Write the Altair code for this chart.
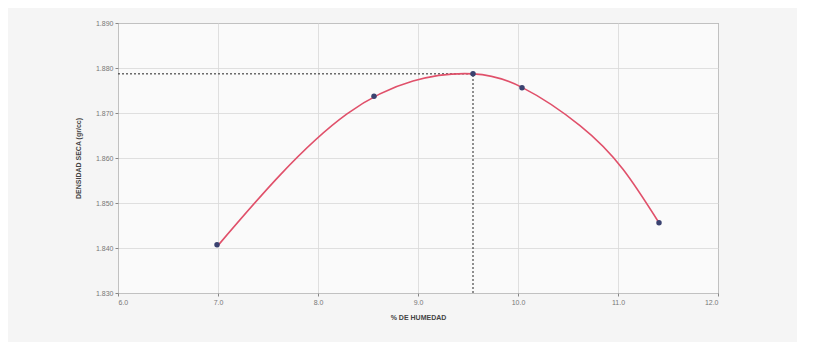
import altair as alt
import pandas as pd

# Measured points (moisture %, dry density)
pt_x = [6.99, 8.56, 9.55, 10.04, 11.41]
pt_y = [1.8407, 1.8737, 1.8787, 1.8756, 1.8456]

# Fitted curve
cv_x = [6.99, 7.62, 8.29, 8.95, 9.55, 10.04, 10.62, 11.05, 11.41]
cv_y = [1.8403, 1.8562, 1.8698, 1.8771, 1.8787, 1.8757, 1.8672, 1.8575, 1.8456]

x_ticks = [6, 7, 8, 9, 10, 11, 12]
y_ticks = [1.830, 1.840, 1.850, 1.860, 1.870, 1.880, 1.890]

opt_x = 9.55
opt_y = 1.8787

pts = pd.DataFrame({"x": pt_x, "y": pt_y})
curve = pd.DataFrame({"x": cv_x, "y": cv_y})
href = pd.DataFrame({"x": [x_ticks[0], opt_x], "y": [opt_y, opt_y]})
vref = pd.DataFrame({"x": [opt_x, opt_x], "y": [y_ticks[0], opt_y]})

xs = alt.Scale(domain=[x_ticks[0], x_ticks[-1]], nice=False, zero=False)
ys = alt.Scale(domain=[y_ticks[0], y_ticks[-1]], nice=False, zero=False)

xenc = alt.X("x:Q", scale=xs, title="% DE HUMEDAD",
             axis=alt.Axis(values=x_ticks, format=".1f", grid=True, tickSize=3,
                           labelFontSize=7, titleFontSize=7, labelColor="#777",
                           titleColor="#444", titlePadding=8, domain=False))
yenc = alt.Y("y:Q", scale=ys, title="DENSIDAD SECA (gr/cc)",
             axis=alt.Axis(values=y_ticks, format=".3f", grid=True, tickSize=3,
                           labelFontSize=7, titleFontSize=7, labelColor="#777",
                           titleColor="#444", titlePadding=14, domain=False))

curve_l = alt.Chart(curve).mark_line(color="#e0506a", strokeWidth=1.6, interpolate="natural").encode(x=xenc, y=yenc)
h_l = alt.Chart(href).mark_line(color="#222", strokeWidth=1, strokeDash=[2, 2]).encode(x="x:Q", y="y:Q")
v_l = alt.Chart(vref).mark_line(color="#222", strokeWidth=1, strokeDash=[2, 2]).encode(x="x:Q", y="y:Q")
pts_l = alt.Chart(pts).mark_circle(color="#3a4270", size=30, opacity=1).encode(x="x:Q", y="y:Q")

chart = alt.layer(h_l, v_l, curve_l, pts_l).properties(
    width=600, height=270,
    autosize=alt.AutoSizeParams(type="none"),
    padding={"left": 110, "top": 15, "right": 79, "bottom": 49},
    background="#f5f5f5",
).configure_view(stroke="#666", strokeWidth=1, fill="#fafafa").configure_axis(
    gridColor="#d8d8d8", gridWidth=0.8, tickColor="#888"
)

chart.save("out.html", embed_options={"renderer": "svg", "actions": False})
